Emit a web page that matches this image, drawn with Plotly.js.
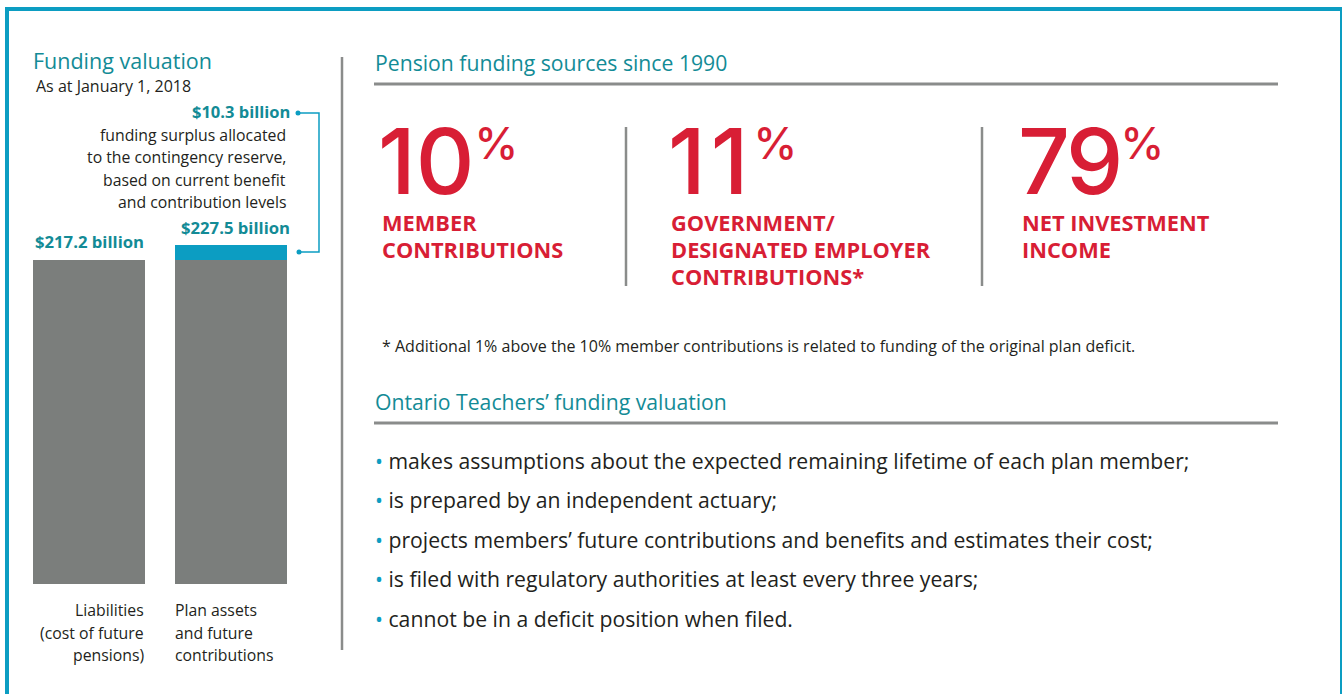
<!DOCTYPE html>
<html><head><meta charset="utf-8">
<script src="https://cdn.plot.ly/plotly-3.0.1.min.js"></script>
<style>html,body{margin:0;padding:0;background:#fff}#chart{width:1342px;height:694px}</style>
</head><body><div id="chart"></div>
<script>
// ---- data ----
const barCategories = ["Liabilities", "Plan assets"];
const liabilities = 217.2;      // $ billion
const planAssets = 227.5;       // $ billion
const surplus = 10.3;           // $ billion
const valueLabels = ["$217.2 billion", "$227.5 billion"];
const surplusLabel = "$10.3 billion";
const surplusText = ["funding surplus allocated", "to the contingency reserve,", "based on current benefit", "and contribution levels"];
const catLabelLeft = ["Liabilities", "(cost of future", "pensions)"];
const catLabelRight = ["Plan assets", "and future", "contributions"];
const pctValues = [10, 11, 79];
const pctLabels = [["MEMBER", "CONTRIBUTIONS"], ["GOVERNMENT/", "DESIGNATED EMPLOYER", "CONTRIBUTIONS*"], ["NET INVESTMENT", "INCOME"]];
const footnote = "* Additional 1% above the 10% member contributions is related to funding of the original plan deficit.";
const bullets = [
  "makes assumptions about the expected remaining lifetime of each plan member;",
  "is prepared by an independent actuary;",
  "projects members\u2019 future contributions and benefits and estimates their cost;",
  "is filed with regulatory authorities at least every three years;",
  "cannot be in a deficit position when filed."
];

// ---- style ----
const W = 1342, H = 694;
const px = x => x / W, py = y => 1 - y / H;
const FONT = "Open Sans, Noto Sans, sans-serif";
const BIG = "Inter, Open Sans, sans-serif";
const TEAL_T = "#138b96", TEAL = "#0c9dc2", RED = "#d81e35", DARK = "#231f20", GREY = "#7b7e7c", LINE = "#8a8c8b";

const traces = [
  {type: "bar", x: barCategories, y: [liabilities, planAssets - surplus], marker: {color: GREY}, hoverinfo: "skip"},
  {type: "bar", x: barCategories, y: [0, surplus], marker: {color: TEAL}, hoverinfo: "skip"}
];

const ann = [];
function A(text, x, y, size, color, anchor, weight, family) {
  ann.push({text: text, xref: "paper", yref: "paper", x: px(x), y: py(y), xanchor: anchor || "left", yanchor: "middle",
    showarrow: false, font: {family: family || FONT, size: size, color: color, weight: weight || "normal"}});
}
// left panel
A("Funding valuation", 31, 61, 21.5, TEAL_T);
A("As at January 1, 2018", 34, 86, 16, DARK);
A("<b>" + surplusLabel + "</b>", 292, 112, 16.5, TEAL_T, "right");
surplusText.forEach((t, i) => A(t, 288, 135 + i * 22.4, 15.8, DARK, "right"));
ann.push({text: "<b>" + valueLabels[0] + "</b>", xref: "x", yref: "y", x: barCategories[0], y: liabilities, yanchor: "bottom", yshift: 5,
  showarrow: false, font: {family: FONT, size: 16.7, color: TEAL_T}});
ann.push({text: "<b>" + valueLabels[1] + "</b>", xref: "paper", yref: "y", x: px(292), y: planAssets, xanchor: "right", yanchor: "bottom", yshift: 4,
  showarrow: false, font: {family: FONT, size: 16.7, color: TEAL_T}});
catLabelLeft.forEach((t, i) => A(t, 146, 610 + i * 22.5, 15.8, DARK, "right"));
catLabelRight.forEach((t, i) => A(t, 173, 610 + i * 22.5, 15.8, DARK, "left"));

// right panel
A("Pension funding sources since 1990", 373, 62, 21.2, TEAL_T);
const colX = [376, 666, 1016];
const labX = [380, 669, 1020];
const spacing = [0, 5, -3];
pctValues.forEach((v, i) => {
  A('<span style="letter-spacing:' + spacing[i] + 'px;font-size:91px">' + v + '</span><sup><span style="font-size:44px">%</span></sup>',
    colX[i], 161, 84, RED, "left", 500, BIG);
  pctLabels[i].forEach((t, j) => A("<b>" + t + "</b>", labX[i], 223 + j * 26.6, 21.8, RED, "left"));
});
A(footnote, 380, 346, 16, DARK);
A("Ontario Teachers\u2019 funding valuation", 373, 402, 21.2, TEAL_T);
bullets.forEach((t, i) => A('<span style="color:' + TEAL + '">\u2022</span> ' + t, 373, 460 + i * 39.6, 21.2, DARK, "left"));

// shapes
const shapes = [];
function L(x0, y0, x1, y1, color, w) {
  shapes.push({type: "line", xref: "paper", yref: "paper", x0: px(x0), y0: py(y0), x1: px(x1), y1: py(y1), line: {color: color, width: w}});
}
L(5, 9, 1342, 9, TEAL, 4);
L(7, 7, 7, 694, TEAL, 4);
L(1341, 7, 1341, 694, TEAL, 2);
L(342, 57, 342, 650, LINE, 2.5);
L(374, 84, 1278, 84, LINE, 3);
L(374, 423, 1278, 423, LINE, 3);
L(626, 127, 626, 286, LINE, 2.5);
L(982, 127, 982, 286, LINE, 2.5);
shapes.push({type: "path", xref: "paper", yref: "paper",
  path: `M ${px(298)} ${py(113)} L ${px(319)} ${py(113)} L ${px(319)} ${py(252)} L ${px(299)} ${py(252)}`, line: {color: TEAL, width: 1.5}});
[[298, 113], [299, 252]].forEach(p => shapes.push({type: "circle", xref: "paper", yref: "paper",
  x0: px(p[0] - 2.5), x1: px(p[0] + 2.5), y0: py(p[1] + 2.5), y1: py(p[1] - 2.5), fillcolor: TEAL, line: {width: 0}}));

const layout = {
  width: W, height: H, margin: {l: 0, r: 0, t: 0, b: 0}, paper_bgcolor: "#fff", plot_bgcolor: "rgba(0,0,0,0)",
  showlegend: false, barmode: "stack", bargap: 0.211,
  xaxis: {domain: [px(18), px(302)], range: [-0.5, 1.5], type: "category", showticklabels: false, showgrid: false, zeroline: false, showline: false, ticks: ""},
  yaxis: {domain: [py(584), py(226)], range: [0, 240], showticklabels: false, showgrid: false, zeroline: false, showline: false, ticks: ""},
  annotations: ann, shapes: shapes, font: {family: FONT}
};
Plotly.newPlot("chart", traces, layout, {displayModeBar: false, staticPlot: true});
</script></body></html>
